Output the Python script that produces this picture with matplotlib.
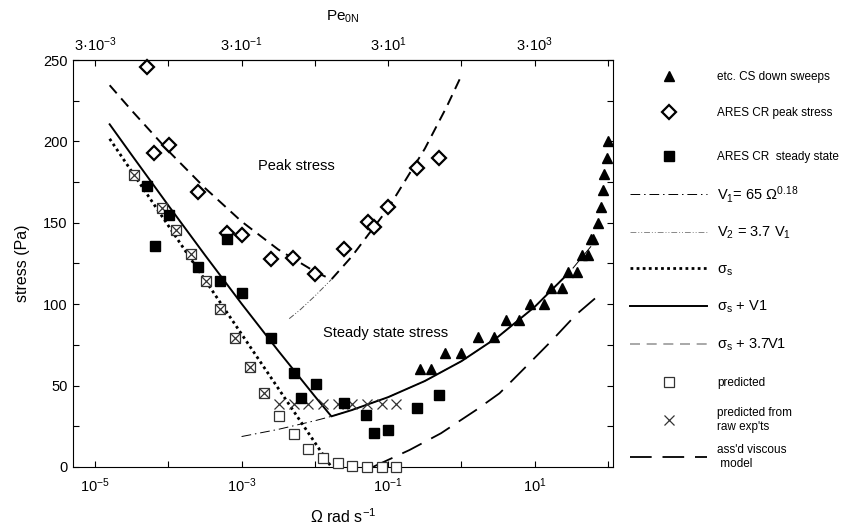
import matplotlib as mpl
mpl.use('Agg')
import matplotlib.pyplot as plt
from matplotlib.lines import Line2D
from matplotlib.ticker import MultipleLocator, NullLocator, FixedLocator
import numpy as np

plt.rcParams['font.family'] = ['Liberation Sans', 'DejaVu Sans']
plt.rcParams['mathtext.fontset'] = 'custom'
plt.rcParams['mathtext.rm'] = 'Liberation Sans'
plt.rcParams['mathtext.it'] = 'Liberation Sans:italic'
plt.rcParams['mathtext.default'] = 'regular'

# all x values are log10(Omega / rad s-1), y values are stress in Pa
peak_logw = [-4.29, -4.20, -3.99, -3.59, -3.20, -2.99, -2.60, -2.30, -2.00,
             -1.60, -1.28, -1.20, -1.00, -0.61, -0.30]
peak_stress = [245.9, 193.1, 197.6, 168.9, 143.9, 142.5, 127.8, 128.2, 118.4,
               133.9, 150.7, 147.6, 159.9, 183.5, 189.6]

steady_logw = [-4.29, -4.18, -3.99, -3.60, -3.29, -3.20, -3.00, -2.60, -2.29,
               -2.19, -1.99, -1.60, -1.30, -1.20, -1.00, -0.61, -0.30]
steady_stress = [172.8, 135.9, 154.8, 123.0, 114.3, 140.0, 106.7, 79.4, 57.5,
                 42.2, 50.8, 39.5, 31.9, 20.7, 22.7, 36.4, 44.2]

cs_logw = [-0.56, -0.42, -0.23, -0.01, 0.23, 0.44, 0.61, 0.79, 0.94, 1.12, 1.22, 1.37,
           1.46, 1.58, 1.65, 1.73, 1.77, 1.80, 1.86, 1.90, 1.93, 1.95, 1.98, 2.00]
cs_stress = [60, 60, 70, 70, 80, 80, 90, 90, 100, 100, 110, 110,
             120, 120, 130, 130, 140, 140, 150, 160, 170, 180, 190, 200]

pred_logw = [-4.47, -4.09, -3.89, -3.69, -3.49, -3.29, -3.09, -2.89, -2.69,
             -2.49, -2.29, -2.09, -1.89, -1.69, -1.49, -1.29, -1.09, -0.89]
pred_stress = [179.4, 159.3, 145.6, 131.0, 114.5, 97.1, 79.4, 61.6, 45.6,
               31.5, 20.1, 11.2, 5.7, 2.3, 0.4, 0.0, 0.0, 0.0]
raw_stress = [179.4, 159.3, 145.6, 131.0, 114.5, 97.1, 79.4, 61.6, 45.6,
              38.5, 38.5, 38.5, 38.5, 38.5, 38.5, 38.5, 38.5, 38.5]

# model curves
v1_logw = [-3.0, -2.5, -2.0, -1.775, -1.5, -1.0, -0.5, 0.0, 0.5, 1.0, 1.5, 1.85]
v1_stress = [18.7, 23.1, 28.4, 31.1, 34.9, 42.9, 52.8, 65.0, 80.0, 98.4, 121.0, 140.0]

v2_logw = [-2.35, -2.2, -2.0, -1.775]
v2_stress = [91.1, 96.6, 105.0, 115.2]

sigs_logw = [-4.8, -1.775]
sigs_stress = [201.6, 0.0]

sv1_logw = [-4.8, -4.5, -4.0, -3.5, -3.0, -2.5, -2.0, -1.775, -1.5, -1.0, -0.5, 0.0,
            0.5, 1.0, 1.45]
sv1_stress = [210.5, 191.7, 160.7, 130.2, 100.3, 71.4, 43.4, 31.1, 34.9, 42.9, 52.8, 65.0,
              80.0, 98.4, 118.6]

sv2_logw = [-4.8, -4.5, -4.0, -3.5, -3.0, -2.5, -2.0, -1.775, -1.5, -1.0, -0.5, -0.2, 0.0]
sv2_stress = [234.5, 219.0, 194.2, 171.4, 150.8, 133.6, 120.0, 115.2, 129.1, 158.9,
              195.5, 221.4, 240.5]

visc_logw = [-1.21, -0.71, -0.28, 0.2, 0.52, 0.88, 1.24, 1.56, 1.93]
visc_stress = [0.0, 10.4, 20.7, 35.0, 45.3, 61.6, 78.0, 93.4, 107.7]

bottom_ticks = [-5, -4, -3, -2, -1, 0, 1, 2]
bottom_labels = ['10$^{-5}$', '', '10$^{-3}$', '', '10$^{-1}$', '', '10$^{1}$', '']
top_ticks = [3e-3, 3e-2, 3e-1, 3e0, 3e1, 3e2, 3e3, 3e4]
top_labels = ['3·10$^{-3}$', '', '3·10$^{-1}$', '', '3·10$^{1}$', '', '3·10$^{3}$', '']


def w(vals):
    return 10.0 ** np.array(vals)


fig = plt.figure(figsize=(8.48, 5.25), dpi=100)
ax = fig.add_axes([0.0861, 0.1105, 0.6368, 0.7752])
ax.set_xscale('log')
ax.set_xlim(10 ** -5.3, 10 ** 2.068)
ax.set_ylim(0, 250)

# lines
ax.plot(w(v1_logw), v1_stress, color='k', lw=0.7, dashes=(10, 4, 1.5, 4), zorder=2)
ax.plot(w(v2_logw), v2_stress, color='#555555', lw=0.7, dashes=(6, 2, 1, 2, 1, 2), zorder=2)
ax.plot(w(sigs_logw), sigs_stress, color='k', lw=2.0, dashes=(1, 1.2), zorder=2)
ax.plot(w(sv1_logw), sv1_stress, color='k', lw=1.4, zorder=2)
ax.plot(w(sv2_logw), sv2_stress, color='k', lw=1.4, dashes=(5.5, 3.5), zorder=2)
ax.plot(w(visc_logw), visc_stress, color='k', lw=1.3, dashes=(12, 6), zorder=2)

# markers
ax.plot(w(pred_logw), pred_stress, ls='none', marker='s', ms=7, mfc='white',
        mec='#333333', mew=0.9, zorder=3, clip_on=False)
ax.plot(w(pred_logw), raw_stress, ls='none', marker='x', ms=7, mec='#333333',
        mew=0.9, zorder=4, clip_on=False)
ax.plot(w(peak_logw), peak_stress, ls='none', marker='D', ms=7.3, mfc='white',
        mec='k', mew=1.6, zorder=5, clip_on=False)
ax.plot(w(steady_logw), steady_stress, ls='none', marker='s', ms=7.5, color='k',
        zorder=6)
ax.plot(w(cs_logw), cs_stress, ls='none', marker='^', ms=7, color='k', zorder=6)

ax.text(10 ** -2.25, 185, 'Peak stress', fontsize=10.5, ha='center', va='center')
ax.text(10 ** -1.035, 82, 'Steady state stress', fontsize=10.5, ha='center', va='center')

# axes styling
for s in ax.spines.values():
    s.set_linewidth(0.8)
ax.set_xticks(w(bottom_ticks), bottom_labels)
ax.xaxis.set_minor_locator(NullLocator())
ax.yaxis.set_major_locator(MultipleLocator(50))
ax.yaxis.set_minor_locator(MultipleLocator(25))
ax.tick_params(which='both', direction='in', right=True, length=4, width=0.8,
               labelsize=10.5)
ax.tick_params(axis='x', pad=7)
ax.tick_params(axis='y', pad=4)

secax = ax.secondary_xaxis('top', functions=(lambda x: 300 * x, lambda x: x / 300))
secax.xaxis.set_major_locator(FixedLocator(top_ticks))
secax.set_xticklabels(top_labels)
secax.xaxis.set_minor_locator(NullLocator())
secax.tick_params(direction='in', length=4, width=0.8, labelsize=10.5, pad=4.5)
secax.spines['top'].set_linewidth(0.8)
fig.text(343 / 848, 1 - 17 / 525, 'Pe$_{0N}$', fontsize=11, ha='center', va='center')

ax.set_xlabel('Ω rad s$^{-1}$', fontsize=11.5)
ax.xaxis.set_label_coords(0.5, -0.098)
ax.set_ylabel('stress (Pa)', fontsize=11.5)
ax.yaxis.set_label_coords(-0.08, 0.5)

# legend, one row at a time
rows = [
    (Line2D([], [], ls='none', marker='^', ms=7, color='k'), 'etc. CS down sweeps', 8.5, 77),
    (Line2D([], [], ls='none', marker='D', ms=7.3, mfc='white', mec='k', mew=1.6),
     'ARES CR peak stress', 8.5, 113),
    (Line2D([], [], ls='none', marker='s', ms=7.5, color='k'), 'ARES CR  steady state', 8.5, 157),
    (Line2D([], [], color='k', lw=0.7, dashes=(10, 4, 1.5, 4)), 'V$_1$= 65 Ω$^{0.18}$', 10.5, 194),
    (Line2D([], [], color='#888888', lw=0.7, dashes=(6, 2, 1, 2, 1, 2)), 'V$_2$ = 3.7 V$_1$', 10.5, 233),
    (Line2D([], [], color='k', lw=2.0, dashes=(1, 1.2)), 'σ$_s$', 10.5, 270),
    (Line2D([], [], color='k', lw=1.4), 'σ$_s$ + V1', 10.5, 307),
    (Line2D([], [], color='#999999', lw=1.2, dashes=(6, 4)), 'σ$_s$ + 3.7V1', 10.5, 345),
    (Line2D([], [], ls='none', marker='s', ms=7, mfc='white', mec='#333333', mew=0.9),
     'predicted', 8.5, 383),
    (Line2D([], [], ls='none', marker='x', ms=7, mec='#333333', mew=0.9),
     "predicted from\nraw exp'ts", 8.5, 420),
    (Line2D([], [], color='k', lw=1.3, dashes=(12, 6)), "ass'd viscous\n model", 8.5, 457),
]
for handle, label, size, ypix in rows:
    leg = fig.legend(handles=[handle], labels=[label], loc='center left',
                     bbox_to_anchor=(630 / 848, 1 - ypix / 525), frameon=False,
                     borderpad=0, borderaxespad=0, handlelength=77 / 100 * 72 / size,
                     handletextpad=7.5 / size, fontsize=size, labelspacing=0.1)

fig.savefig('out.png', dpi=100)
plt.close(fig)
